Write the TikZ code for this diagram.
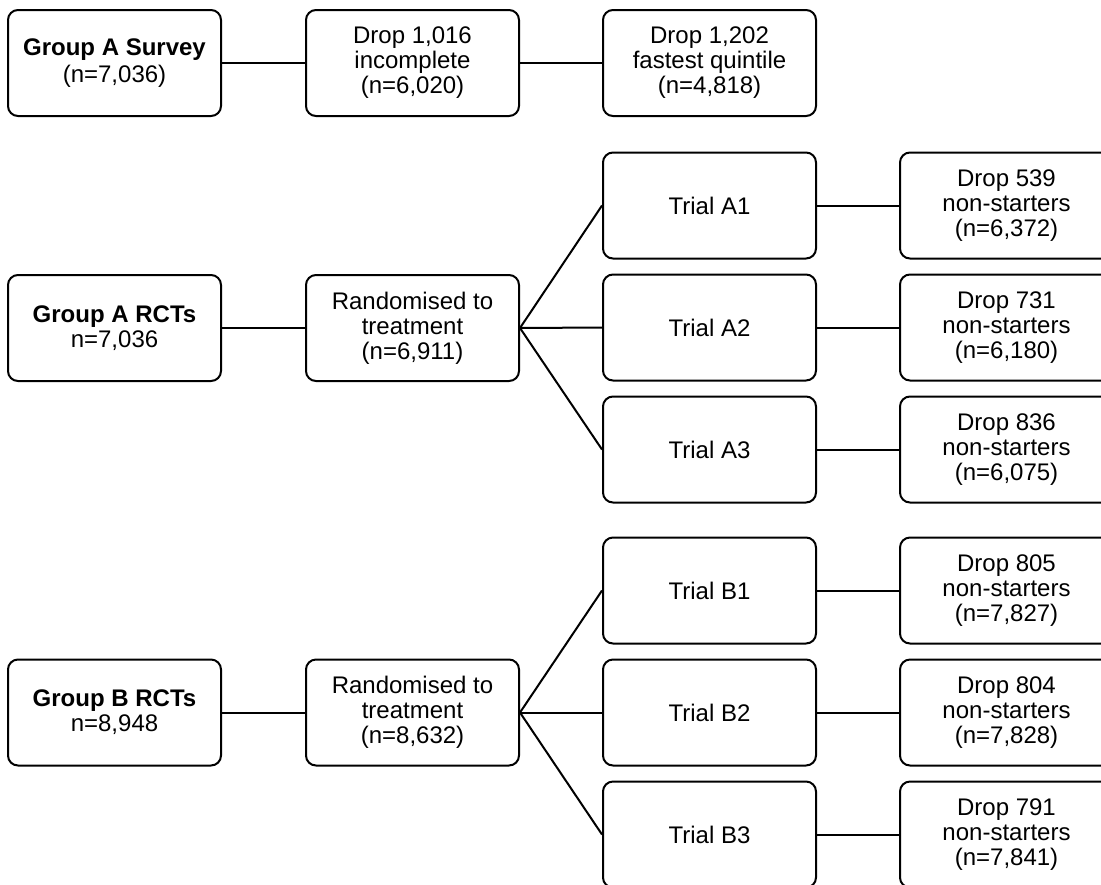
\documentclass[tikz,border=0pt]{standalone}
\usepackage{fontspec}
\setmainfont{Liberation Sans}
\begin{document}
\begin{tikzpicture}[x=0.5pt, y=-0.5pt,
	box/.style = {draw, line width=1pt, rounded corners=5pt, minimum width=106.5pt, minimum height=53pt, inner sep=0pt, align=center, font=\fontsize{12}{12.5}\selectfont},
	link/.style = {line width=1pt}]
	%%%	Frame
	\useasboundingbox (0,0) rectangle (1101,884);
	\clip (0,0) rectangle (1101,884);
	%%%	Survey
	\node[box] (survey) at (114.5,63) {\textbf{Group A Survey}\\[1pt](n=7,036)};
	\node[box] (incomplete) at (412.5,63) {Drop 1,016\\incomplete\\(n=6,020)};
	\node[box] (fastest) at (709.5,63) {Drop 1,202\\fastest quintile\\(n=4,818)};
	\draw[link] (survey) -- (incomplete);
	\draw[link] (incomplete) -- (fastest);
	
	%%%	Group A
	\node[box] (rctA) at (114.5,328) {\textbf{Group A RCTs}\\n=7,036};
	\node[box] (randA) at (412.5,328) {Randomised to\\treatment\\(n=6,911)};
	\node[box] (trialA1) at (709.5,205.5) {Trial A1};
	\node[box] (trialA2) at (709.5,327.5) {Trial A2};
	\node[box] (trialA3) at (709.5,449.5) {Trial A3};
	\node[box] (dropA1) at (1006.5,205.5) {Drop 539\\non-starters\\(n=6,372)};
	\node[box] (dropA2) at (1006.5,327.5) {Drop 731\\non-starters\\(n=6,180)};
	\node[box] (dropA3) at (1006.5,449.5) {Drop 836\\non-starters\\(n=6,075)};
	\draw[link] (rctA) -- (randA);
	\draw[link] (randA.east) -- (trialA1.west);
	\draw[link] (randA.east) -- (trialA2.west);
	\draw[link] (randA.east) -- (trialA3.west);
	\draw[link] (trialA1) -- (dropA1);
	\draw[link] (trialA2) -- (dropA2);
	\draw[link] (trialA3) -- (dropA3);
	
	%%%	Group B
	\node[box] (rctB) at (114.5,712.5) {\textbf{Group B RCTs}\\n=8,948};
	\node[box] (randB) at (412.5,712.5) {Randomised to\\treatment\\(n=8,632)};
	\node[box] (trialB1) at (709.5,590.5) {Trial B1};
	\node[box] (trialB2) at (709.5,712.5) {Trial B2};
	\node[box] (trialB3) at (709.5,834.5) {Trial B3};
	\node[box] (dropB1) at (1006.5,590.5) {Drop 805\\non-starters\\(n=7,827)};
	\node[box] (dropB2) at (1006.5,712.5) {Drop 804\\non-starters\\(n=7,828)};
	\node[box] (dropB3) at (1006.5,834.5) {Drop 791\\non-starters\\(n=7,841)};
	\draw[link] (rctB) -- (randB);
	\draw[link] (randB.east) -- (trialB1.west);
	\draw[link] (randB.east) -- (trialB2.west);
	\draw[link] (randB.east) -- (trialB3.west);
	\draw[link] (trialB1) -- (dropB1);
	\draw[link] (trialB2) -- (dropB2);
	\draw[link] (trialB3) -- (dropB3);
\end{tikzpicture}
\end{document}
